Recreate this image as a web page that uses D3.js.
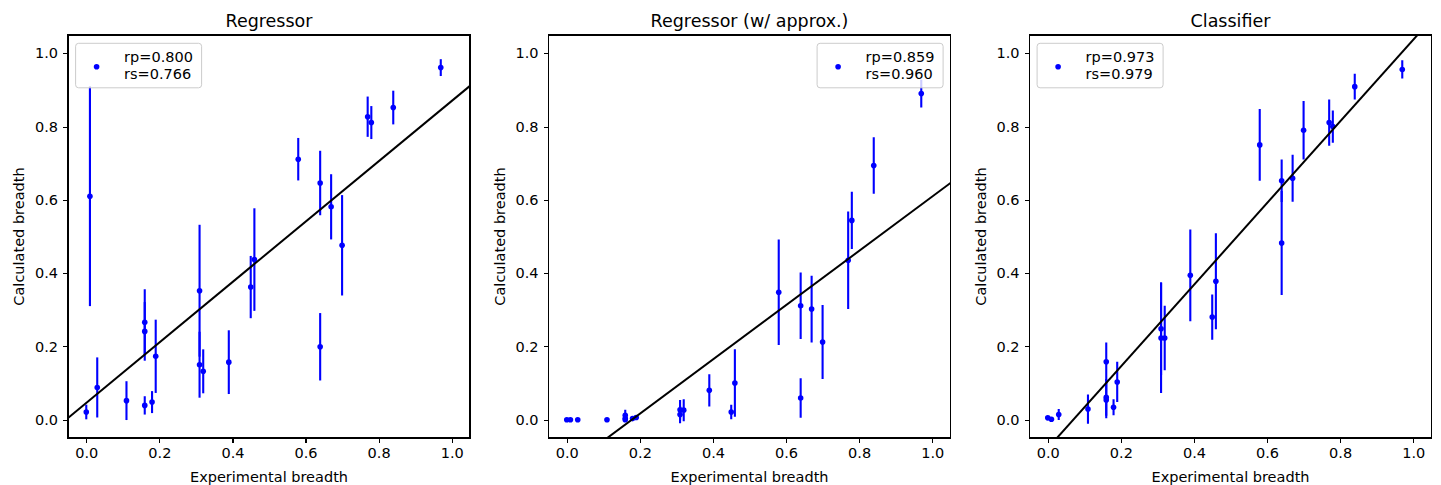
<!DOCTYPE html>
<html lang="en">
<head>
  <meta charset="UTF-8">
  <title>Calculated vs experimental breadth</title>
  <script src="https://d3js.org/d3.v7.min.js"></script>
  <style>
    body { margin: 0; background: #fff; }
    text { font-family: "DejaVu Sans", sans-serif; fill: #000; }
    .axis path, .axis line { stroke: #000; stroke-width: 1.1; shape-rendering: crispEdges; }
    .axis text { font-size: 14.5px; }
  </style>
</head>
<body>
<script>
// experimental breadth (shared x values)
const expX = [0, 0.01, 0.03, 0.11, 0.16, 0.16, 0.16, 0.18, 0.19, 0.31, 0.31, 0.32,
              0.39, 0.45, 0.46, 0.58, 0.64, 0.64, 0.67, 0.70, 0.77, 0.78, 0.84, 0.97];

// Regressor
const regY   = [0.021, 0.61, 0.088, 0.052, 0.266, 0.241, 0.039, 0.048, 0.173, 0.352, 0.150, 0.132,
                0.157, 0.362, 0.437, 0.711, 0.646, 0.199, 0.581, 0.476, 0.827, 0.811, 0.852, 0.961];
const regErr = [0.02, 0.30, 0.082, 0.053, 0.09, 0.08, 0.025, 0.03, 0.10, 0.18, 0.09, 0.06,
                0.087, 0.085, 0.14, 0.058, 0.088, 0.092, 0.089, 0.137, 0.055, 0.045, 0.046, 0.023];

// Regressor (w/ approx.)
const apxY   = [0, 0, 0, 0, 0.012, 0.004, 0, 0.003, 0.006, 0.027, 0.014, 0.026,
                0.080, 0.021, 0.100, 0.348, 0.311, 0.059, 0.302, 0.212, 0.435, 0.544, 0.694, 0.890];
const apxErr = [0, 0, 0, 0, 0.015, 0.005, 0, 0, 0, 0.027, 0.024, 0.03,
                0.044, 0.02, 0.092, 0.144, 0.091, 0.054, 0.091, 0.101, 0.133, 0.078, 0.077, 0.038];

// Classifier
const clsY   = [0.005, 0.001, 0.014, 0.029, 0.158, 0.061, 0.054, 0.034, 0.103, 0.248, 0.223, 0.223,
                0.394, 0.280, 0.378, 0.750, 0.652, 0.482, 0.659, 0.790, 0.811, 0.800, 0.909, 0.956];
const clsErr = [0.004, 0.003, 0.015, 0.04, 0.053, 0.05, 0.05, 0.022, 0.055, 0.127, 0.15, 0.088,
                0.125, 0.062, 0.131, 0.098, 0.058, 0.142, 0.064, 0.08, 0.063, 0.044, 0.035, 0.025];

const titles = ["Regressor", "Regressor (w/ approx.)", "Classifier"];
const legendLines = [["rp=0.800", "rs=0.766"], ["rp=0.859", "rs=0.960"], ["rp=0.973", "rs=0.979"]];
// fitted line [slope, intercept]
const fits = [[0.824, 0.046], [0.741, -0.132], [1.115, -0.078]];
const tickVals = [0, 0.2, 0.4, 0.6, 0.8, 1.0];

const panels = [
  { y: regY, err: regErr, legendRight: false },
  { y: apxY, err: apxErr, legendRight: true },
  { y: clsY, err: clsErr, legendRight: false }
];

const W = 1441, H = 485;
const lefts = [68, 548.5, 1029.5];
const topM = 35, pw = 402, ph = 403;

const svg = d3.select("body").append("svg")
  .attr("width", W).attr("height", H);

panels.forEach((p, k) => {
  const g = svg.append("g").attr("transform", `translate(${lefts[k]},${topM})`);

  const x = d3.scaleLinear().domain([-0.05, 1.05]).range([0, pw]);
  const y = d3.scaleLinear().domain([-0.05, 1.05]).range([ph, 0]);

  const clipId = "clip" + k;
  g.append("clipPath").attr("id", clipId)
    .append("rect").attr("width", pw).attr("height", ph);

  const plot = g.append("g").attr("clip-path", `url(#${clipId})`);

  const pts = expX.map((v, i) => ({ x: v, y: p.y[i], e: p.err[i] }));

  // error bars
  plot.selectAll(".err").data(pts).enter().append("line")
    .attr("x1", d => x(d.x)).attr("x2", d => x(d.x))
    .attr("y1", d => y(d.y - d.e)).attr("y2", d => y(d.y + d.e))
    .attr("stroke", "#0000ff").attr("stroke-width", 2.1);

  // points
  plot.selectAll(".pt").data(pts).enter().append("circle")
    .attr("cx", d => x(d.x)).attr("cy", d => y(d.y))
    .attr("r", 2.8).attr("fill", "#0000ff");

  // fitted line
  const [m, b] = fits[k];
  const line = d3.line().x(d => x(d)).y(d => y(m * d + b));
  plot.append("path").datum([-0.05, 1.05])
    .attr("d", line).attr("fill", "none")
    .attr("stroke", "#000").attr("stroke-width", 2);

  // axes
  g.append("g").attr("class", "axis")
    .attr("transform", `translate(0,${ph})`)
    .call(d3.axisBottom(x).tickValues(tickVals).tickFormat(d3.format(".1f"))
      .tickSizeInner(5).tickSizeOuter(0).tickPadding(5))
    .call(a => a.select(".domain").remove());
  g.append("g").attr("class", "axis")
    .call(d3.axisLeft(y).tickValues(tickVals).tickFormat(d3.format(".1f"))
      .tickSizeInner(5).tickSizeOuter(0).tickPadding(5))
    .call(a => a.select(".domain").remove());

  g.append("rect").attr("width", pw).attr("height", ph)
    .attr("fill", "none").attr("stroke", "#000").attr("stroke-width", 1.1)
    .attr("shape-rendering", "crispEdges");

  // title and labels
  g.append("text").attr("x", pw / 2).attr("y", 27 - topM)
    .attr("text-anchor", "middle").style("font-size", "17.5px").text(titles[k]);
  g.append("text").attr("x", pw / 2).attr("y", ph + 44)
    .attr("text-anchor", "middle").style("font-size", "14.5px").text("Experimental breadth");
  g.append("text").attr("transform", `translate(-44,${ph / 2}) rotate(-90)`)
    .attr("text-anchor", "middle").style("font-size", "14.5px").text("Calculated breadth");

  // legend
  const lw = 126, lh = 44.5;
  const lx = p.legendRight ? pw - 7.4 - lw : 7.6;
  const lg = g.append("g").attr("transform", `translate(${lx},8.3)`);
  lg.append("rect").attr("width", lw).attr("height", lh).attr("rx", 3)
    .attr("fill", "#fff").attr("fill-opacity", 0.8)
    .attr("stroke", "#ccc").attr("stroke-width", 1);
  lg.append("circle").attr("cx", 21).attr("cy", 23.4).attr("r", 2.8).attr("fill", "#0000ff");
  lg.selectAll(".lt").data(legendLines[k]).enter().append("text")
    .attr("x", 48.5).attr("y", (d, i) => 19 + i * 16.7)
    .style("font-size", "14.5px").text(d => d);
});
</script>
</body>
</html>
